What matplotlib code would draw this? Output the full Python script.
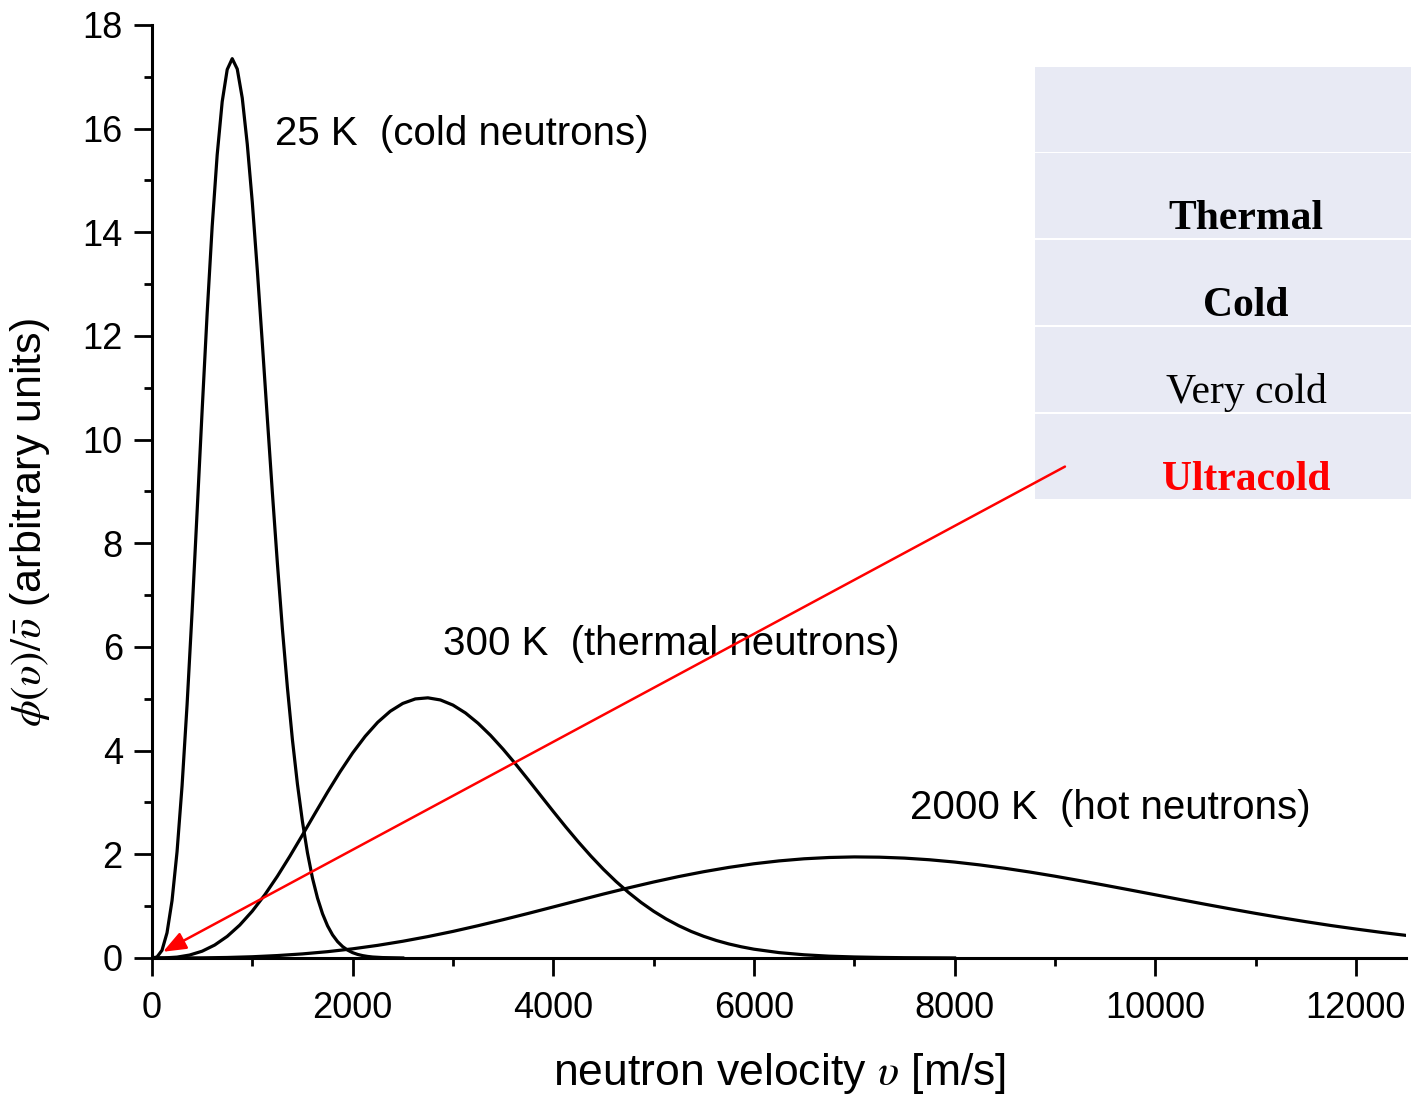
import matplotlib.pyplot as plt
from matplotlib.patches import Rectangle
from matplotlib.ticker import MultipleLocator

plt.rcParams['font.family'] = ['Liberation Sans', 'DejaVu Sans']
plt.rcParams['mathtext.fontset'] = 'stix'

# values
v_cold = [0, 50, 100, 150, 200, 250, 300, 350, 400, 450, 500, 550, 600, 650,
          700, 750, 800, 850, 900, 950, 1000, 1050, 1100, 1150, 1200, 1250,
          1300, 1350, 1400, 1450, 1500, 1550, 1600, 1650, 1700, 1750, 1800,
          1850, 1900, 1950, 2000, 2050, 2100, 2150, 2200, 2300, 2500]
phi_cold = [0, 0.019, 0.148, 0.486, 1.106, 2.05, 3.32, 4.887, 6.68, 8.61,
            10.56, 12.435, 14.11, 15.494, 16.52, 17.14, 17.35, 17.15, 16.59,
            15.70, 14.58, 13.27, 11.86, 10.41, 8.98, 7.617, 6.35, 5.216, 4.21,
            3.354, 2.63, 2.028, 1.54, 1.156, 0.854, 0.621, 0.446, 0.316, 0.221,
            0.152, 0.103, 0.069, 0.046, 0.030, 0.019, 0.008, 0.001]

v_thermal = [0, 125, 250, 375, 500, 625, 750, 875, 1000, 1125, 1250, 1375,
             1500, 1625, 1750, 1875, 2000, 2125, 2250, 2375, 2500, 2625, 2750,
             2875, 3000, 3125, 3250, 3375, 3500, 3625, 3750, 3875, 4000, 4125,
             4250, 4375, 4500, 4625, 4750, 4875, 5000, 5125, 5250, 5375, 5500,
             5625, 5750, 5875, 6000, 6250, 6500, 6750, 7000, 7250, 7500, 8000]
phi_thermal = [0, 0.002, 0.017, 0.057, 0.131, 0.250, 0.417, 0.635, 0.904,
               1.220, 1.577, 1.965, 2.373, 2.789, 3.200, 3.592, 3.955, 4.276,
               4.547, 4.760, 4.911, 4.998, 5.019, 4.978, 4.879, 4.727, 4.529,
               4.294, 4.028, 3.741, 3.440, 3.133, 2.827, 2.527, 2.239, 1.966,
               1.711, 1.477, 1.264, 1.072, 0.902, 0.753, 0.624, 0.512, 0.418,
               0.338, 0.271, 0.216, 0.170, 0.104, 0.062, 0.035, 0.020, 0.011,
               0.006, 0.0015]

v_hot = [0, 250, 500, 750, 1000, 1250, 1500, 1750, 2000, 2250, 2500, 2750,
         3000, 3250, 3500, 3750, 4000, 4250, 4500, 4750, 5000, 5250, 5500,
         5750, 6000, 6250, 6500, 6750, 7000, 7250, 7500, 7750, 8000, 8250,
         8500, 8750, 9000, 9250, 9500, 9750, 10000, 10250, 10500, 10750, 11000,
         11250, 11500, 11750, 12000, 12250, 12500]
phi_hot = [0, 0.0004, 0.003, 0.010, 0.024, 0.047, 0.079, 0.122, 0.177, 0.244,
           0.323, 0.413, 0.513, 0.623, 0.739, 0.860, 0.985, 1.110, 1.234,
           1.353, 1.466, 1.571, 1.665, 1.748, 1.818, 1.873, 1.914, 1.939, 1.950,
           1.945, 1.927, 1.895, 1.851, 1.796, 1.731, 1.658, 1.578, 1.492, 1.403,
           1.312, 1.220, 1.127, 1.036, 0.947, 0.861, 0.779, 0.701, 0.627, 0.559,
           0.495, 0.436]

curve_labels = ["25 K  (cold neutrons)", "300 K  (thermal neutrons)",
                "2000 K  (hot neutrons)"]
label_pos = [(1225, 15.9), (2898, 6.05), (7560, 2.9)]

box_rows = ["", "Thermal", "Cold", "Very cold", "Ultracold"]
box_weights = ["bold", "bold", "bold", "normal", "bold"]
box_colors = ["black", "black", "black", "black", "red"]

fig = plt.figure(figsize=(14.11, 10.99), dpi=100)
ax = fig.add_axes([0.1077, 0.1283, 0.8888, 0.849])

for v, phi in [(v_cold, phi_cold), (v_thermal, phi_thermal), (v_hot, phi_hot)]:
    ax.plot(v, phi, color='black', lw=2.3, solid_joinstyle='round', zorder=3)

for txt, (x, y) in zip(curve_labels, label_pos):
    ax.text(x, y, txt, fontsize=29, va='center', ha='left', zorder=4)

# classification box on the right
W, H = 1411, 1099
row_tops = [67, 153, 240, 327, 414]
row_h = 85
for top, txt, wt, col in zip(row_tops, box_rows, box_weights, box_colors):
    ax.add_patch(Rectangle((1035 / W, 1 - (top + row_h) / H), 376 / W, row_h / H,
                           transform=fig.transFigure, facecolor='#e8eaf4',
                           edgecolor='none', zorder=1, clip_on=False))
    if txt:
        fig.text(1246 / W, 1 - (top + 66) / H, txt, fontsize=30, weight=wt,
                 color=col, ha='center', va='center', family='Liberation Serif',
                 zorder=5)

# red arrow towards the ultracold end
ax.annotate("", xy=(110, 0.12), xytext=(9100, 9.48),
            arrowprops=dict(arrowstyle='-|>,head_length=1.4,head_width=0.55',
                            color='red', lw=1.8, shrinkA=0, shrinkB=0),
            zorder=6)

ax.set_xlim(0, 12500)
ax.set_ylim(0, 18)
ax.xaxis.set_major_locator(MultipleLocator(2000))
ax.xaxis.set_minor_locator(MultipleLocator(1000))
ax.yaxis.set_major_locator(MultipleLocator(2))
ax.yaxis.set_minor_locator(MultipleLocator(1))
ax.spines['top'].set_visible(False)
ax.spines['right'].set_visible(False)
for s in ['left', 'bottom']:
    ax.spines[s].set_linewidth(2.2)
ax.tick_params(which='major', direction='out', length=13, width=2,
               labelsize=26, pad=8)
ax.tick_params(axis='x', which='major', pad=11)
ax.tick_params(which='minor', direction='out', length=6, width=2)

ax.set_xlabel(r"neutron velocity $\upsilon$ [m/s]", fontsize=32)
ax.xaxis.set_label_coords(0.5, -0.100)
ax.set_ylabel(r"$\phi(\upsilon)/\bar{\upsilon}$ (arbitrary units)", fontsize=31)
ax.yaxis.set_label_coords(-0.080, 0.467)

plt.savefig("out.png", dpi=100)
